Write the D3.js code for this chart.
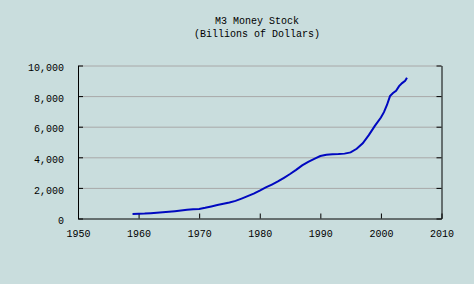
<!DOCTYPE html>
<html>
<head>
<meta charset="utf-8">
<script src="https://cdn.jsdelivr.net/npm/d3@7"></script>
<style>
  body { margin: 0; background: #c9dddd; }
  svg { display: block; font-family: "Liberation Mono", monospace; font-size: 10px; }
  .grid line { stroke: #a8a8a8; }
  .grid path { display: none; }
  .axis path, .axis line { stroke: #000; }
  .axis text { fill: #000; font-family: "Liberation Mono", monospace; font-size: 10px; }
</style>
</head>
<body>
<div id="chart"></div>
<script>
// M3 money stock, billions of dollars
const years = [1959, 1960, 1961, 1962, 1963, 1964, 1965, 1966, 1967, 1968, 1969,
  1970, 1971, 1972, 1973, 1974, 1975, 1976, 1977, 1978, 1979,
  1980, 1981, 1982, 1983, 1984, 1985, 1986, 1987, 1988, 1989,
  1990, 1991, 1992, 1993, 1994, 1995, 1996, 1997, 1998, 1999,
  2000, 2000.5, 2001, 2001.5, 2002, 2002.5, 2003, 2003.5, 2004, 2004.3];
const m3 = [290, 305, 320, 345, 375, 410, 445, 480, 520, 565, 600,
  625, 700, 790, 880, 960, 1040, 1150, 1300, 1460, 1630,
  1820, 2030, 2220, 2420, 2660, 2910, 3180, 3470, 3700, 3900,
  4080, 4170, 4200, 4210, 4240, 4320, 4560, 4920, 5450, 6050,
  6600, 6950, 7420, 8000, 8200, 8350, 8650, 8850, 9000, 9200];
const xTicks = [1950, 1960, 1970, 1980, 1990, 2000, 2010];
const yTicks = [0, 2000, 4000, 6000, 8000, 10000];
const titleLines = ['M3 Money Stock', '(Billions of Dollars)'];

const width = 474, height = 284;
const margin = { top: 65.5, right: 32.5, bottom: 65.5, left: 78 };

const data = years.map((y, i) => ({ year: y, value: m3[i] }));

const svg = d3.select('#chart').append('svg')
  .attr('width', width)
  .attr('height', height);

const x = d3.scaleLinear().domain([1950, 2010]).range([margin.left, width - margin.right]);
const y = d3.scaleLinear().domain([0, 10000]).range([height - margin.bottom, margin.top]);

// title
svg.append('g').selectAll('text')
  .data(titleLines)
  .join('text')
  .attr('x', 257)
  .attr('y', (d, i) => 24 + i * 13)
  .attr('text-anchor', 'middle')
  .text((d) => d);

// gridlines
svg.append('g')
  .attr('class', 'grid')
  .attr('transform', `translate(${margin.left},0)`)
  .call(d3.axisRight(y).tickValues(yTicks.slice(1)).tickFormat('').tickSize(x.range()[1] - x.range()[0]));

// left axis, ticks inside
const yAxis = svg.append('g')
  .attr('class', 'axis')
  .attr('transform', `translate(${margin.left},0)`)
  .call(d3.axisLeft(y).tickValues(yTicks).tickFormat(d3.format(',')).tickSizeInner(-5).tickSizeOuter(0).tickPadding(14));
yAxis.selectAll('text').attr('dy', '0.62em').attr('y', -1);

// right axis, ticks inside, no labels
svg.append('g')
  .attr('class', 'axis')
  .attr('transform', `translate(${x.range()[1]},0)`)
  .call(d3.axisRight(y).tickValues(yTicks).tickFormat('').tickSizeInner(-5).tickSizeOuter(0));

// bottom axis, ticks inside
const xAxis = svg.append('g')
  .attr('class', 'axis')
  .attr('transform', `translate(0,${y(0)})`)
  .call(d3.axisBottom(x).tickValues(xTicks).tickFormat(d3.format('d')).tickSizeInner(-5).tickSizeOuter(0));
xAxis.selectAll('text').attr('y', 11);

// the series
svg.append('path')
  .datum(data)
  .attr('fill', 'none')
  .attr('stroke', '#0008c0')
  .attr('stroke-width', 2)
  .attr('d', d3.line().x((d) => x(d.year)).y((d) => y(d.value)));
</script>
</body>
</html>
